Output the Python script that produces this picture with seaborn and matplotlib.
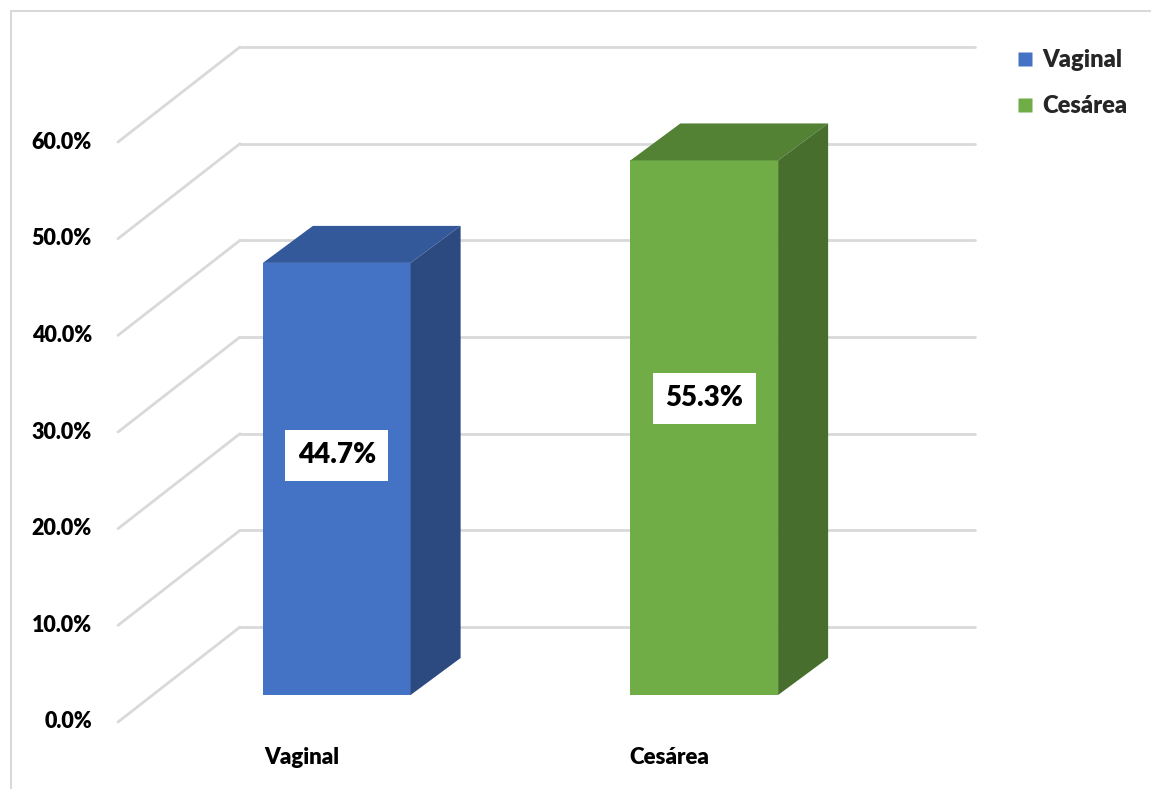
import matplotlib
matplotlib.use("Agg")
import matplotlib.pyplot as plt
from matplotlib.patches import Polygon
from matplotlib.lines import Line2D
import seaborn as sns
import pandas as pd

# Data
categories = ["Vaginal", "Cesárea"]
values = [44.7, 55.3]
tick_values = [0, 10, 20, 30, 40, 50, 60]
tick_labels = ["0.0%", "10.0%", "20.0%", "30.0%", "40.0%", "50.0%", "60.0%"]

front_colors = ["#4472C4", "#70AD47"]
top_colors = ["#34599B", "#548235"]
side_colors = ["#2C4A80", "#476E2D"]
grid_color = "#D9D9D9"

sns.set_theme(style="white")
plt.rcParams["font.family"] = ["Lato", "DejaVu Sans"]
plt.rcParams["font.weight"] = "bold"

W, H = 1151, 789
fig = plt.figure(figsize=(W / 100, H / 100), dpi=100)
fig.patch.set_facecolor("white")
ax = fig.add_axes([153 / W, (H - 695) / H, 735 / W, 580 / H])

df = pd.DataFrame({"cat": categories, "val": values})
sns.barplot(data=df, x="cat", y="val", hue="cat", palette=front_colors,
            width=0.402, saturation=1, legend=False, ax=ax, zorder=3,
            linewidth=0)
ax.set_xlim(-0.5, 1.5)
ax.set_ylim(0, 60)
ax.set_axis_off()

# pixel offsets for the pseudo-3D planes (display units, y up)
FRONT = (-35, -27)   # plane of the axis labels
BACK = (87, 68)      # back wall
DEPTH = (50, 37)     # depth of each bar


def shift(x, y, d):
    px, py = ax.transData.transform((x, y))
    return tuple(ax.transData.inverted().transform((px + d[0], py + d[1])))


x0, x1 = ax.get_xlim()

# gridlines: back wall horizontals and side-wall diagonals
for v in tick_values:
    bx0, by = shift(x0, v, BACK)
    bx1, _ = shift(x1, v, BACK)
    fx, fy = shift(x0, v, FRONT)
    ax.add_line(Line2D([bx0, bx1], [by, by], color=grid_color, lw=2,
                       zorder=0.5, clip_on=False))
    ax.add_line(Line2D([fx, bx0], [fy, by], color=grid_color, lw=2,
                       zorder=0.5, clip_on=False))

# tick labels on the front plane
for v, lab in zip(tick_values, tick_labels):
    tx, ty = shift(x0, v, (FRONT[0] - 26, FRONT[1]))
    ax.text(tx, ty, lab, ha="right", va="center", fontsize=15.5,
            fontweight="heavy", color="black", clip_on=False)

# category labels on the front plane
for i, cat in enumerate(categories):
    tx, ty = shift(i, 0, (FRONT[0], FRONT[1] - 35))
    ax.text(tx, ty, cat, ha="center", va="center", fontsize=16,
            fontweight="heavy", color="black", clip_on=False)

# top and side faces of each bar
for bar, top_c, side_c in zip(ax.patches, top_colors, side_colors):
    xl = bar.get_x()
    xr = xl + bar.get_width()
    h = bar.get_height()
    top = [(xl, h), (xr, h), shift(xr, h, DEPTH), shift(xl, h, DEPTH)]
    side = [(xr, 0), shift(xr, 0, DEPTH), shift(xr, h, DEPTH), (xr, h)]
    ax.add_patch(Polygon(top, closed=True, facecolor=top_c, edgecolor="none",
                         zorder=3, clip_on=False))
    ax.add_patch(Polygon(side, closed=True, facecolor=side_c, edgecolor="none",
                         zorder=3, clip_on=False))

# value labels in white boxes
for i, v in enumerate(values):
    ax.text(i, v * 0.555, f"{v:.1f}%", ha="center", va="center",
            fontsize=20, fontweight="heavy", color="black", zorder=5,
            bbox=dict(boxstyle="square,pad=0.45", facecolor="white",
                      edgecolor="none"))

# legend
handles = [Line2D([0], [0], marker="s", linestyle="none", markersize=10.5,
                  markerfacecolor=c, markeredgecolor="none")
           for c in front_colors]
fig.legend(handles, categories, loc="upper left",
           bbox_to_anchor=(1006 / W, 1 - 40 / H), frameon=False,
           prop=dict(size=17, weight="heavy"), handlelength=0.8,
           handletextpad=0.35, labelspacing=1.0, borderaxespad=0)

# chart frame
fig.add_artist(Line2D([11 / W, 1], [1 - 11 / H, 1 - 11 / H],
                      transform=fig.transFigure, color=grid_color, lw=1.5))
fig.add_artist(Line2D([11 / W, 11 / W], [0, 1 - 11 / H],
                      transform=fig.transFigure, color=grid_color, lw=1.5))

fig.savefig("out.png", dpi=100, facecolor="white")
